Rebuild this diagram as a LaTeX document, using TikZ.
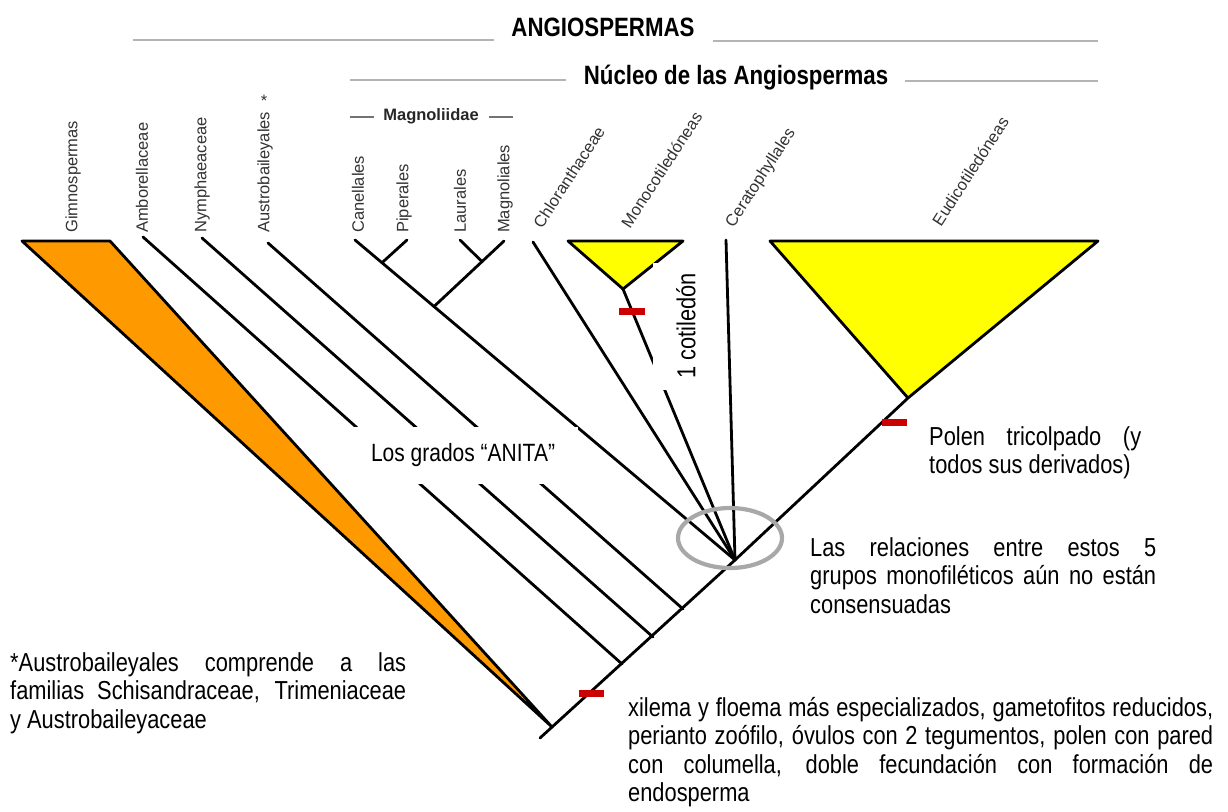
\documentclass[tikz,border=0pt]{standalone}
\usepackage{fontspec}
\setmainfont{Liberation Sans}
\newfontfamily\narrowfont[FakeStretch=0.84]{Liberation Sans}
\definecolor{gimno}{HTML}{FF9900}
\definecolor{monoy}{HTML}{FFFF00}
\definecolor{redm}{HTML}{CC0000}
\definecolor{ringg}{HTML}{A8A8A8}
\definecolor{hdrg}{HTML}{B4B4B4}
\begin{document}
\begin{tikzpicture}[x=1pt,y=-1pt,
  branch/.style={line width=2.8pt,black,line cap=round,line join=round},
  clade/.style={line width=2.8pt,draw=black,line join=round},
  hdrline/.style={line width=2pt,hdrg},
  maglines/.style={line width=1.2pt,black!55},
  redmark/.style={fill=redm,draw=none},
  lbl/.style={font=\fontsize{16.5}{18}\selectfont,text=black!80,inner sep=0pt},
  hdr/.style={font=\narrowfont\bfseries\fontsize{26.5}{28.5}\selectfont,inner sep=0pt},
  body/.style={font=\narrowfont\fontsize{26}{28.5}\selectfont,inner sep=0pt},
  whitebox/.style={fill=white,draw=none,inner sep=0pt}]
\useasboundingbox[fill=white] (0,0) rectangle (1228,811);

% ---------- headers ----------
\node[hdr,anchor=base] (ang) at (603,36.5) {ANGIOSPERMAS};
\coordinate (a1) at (133,40); \coordinate (a2) at (494,40);
\coordinate (a3) at (713,41); \coordinate (a4) at (1098,41);
\draw[hdrline] (a1) -- (a2);
\draw[hdrline] (a3) -- (a4);
\node[hdr,anchor=base] (nuc) at (736,84) {Núcleo de las Angiospermas};
\coordinate (n1) at (350,80); \coordinate (n2) at (566,80);
\coordinate (n3) at (905,81); \coordinate (n4) at (1098,81);
\draw[hdrline] (n1) -- (n2);
\draw[hdrline] (n3) -- (n4);
\node[font=\bfseries\fontsize{16.5}{18}\selectfont,text=black!85,inner sep=0pt] (magn) at (431,116) {Magnoliidae};
\coordinate (m1l) at (350,117); \coordinate (m2l) at (374,117);
\coordinate (m3l) at (489,117); \coordinate (m4l) at (513,117);
\draw[maglines] (m1l) -- (m2l);
\draw[maglines] (m3l) -- (m4l);

% ---------- tree coordinates ----------
\coordinate (root) at (540,738);
\coordinate (jg)   at (552,727);
\coordinate (ja)   at (622,664);
\coordinate (jn)   at (653,637);
\coordinate (jau)  at (683,609);
\coordinate (poly) at (735,560);
\coordinate (eua)  at (908,398);
\coordinate (g1) at (22,241);  \coordinate (g2) at (110,241);
\coordinate (tamb) at (143,237);
\coordinate (tnym) at (202,238);
\coordinate (taus) at (268,243);
\coordinate (tcan) at (355,240);
\coordinate (tpip) at (407,240);
\coordinate (jcp)  at (382,262.7);
\coordinate (tlau) at (460,240);
\coordinate (tmag) at (504,241);
\coordinate (jlm)  at (482,261.6);
\coordinate (jmag) at (434,306.5);
\coordinate (tchl) at (533,242);
\coordinate (mapx) at (623,289);
\coordinate (mo1) at (568,241); \coordinate (mo2) at (683,241);
\coordinate (tcer) at (726,240);
\coordinate (e1) at (770,241); \coordinate (e2) at (1098,241);

% ---------- Gimnospermas wedge ----------
\draw[clade,fill=gimno] (g1) -- (g2) -- (jg) -- cycle;

% ---------- branches ----------
\draw[branch] (root) -- (poly) -- (eua);
\draw[branch] (tamb) -- (ja);
\draw[branch] (tnym) -- (jn);
\draw[branch] (taus) -- (jau);
\draw[branch] (tcan) -- (poly);
\draw[branch] (tpip) -- (jcp);
\draw[branch] (tmag) -- (jmag);
\draw[branch] (tlau) -- (jlm);
\draw[branch] (tchl) -- (poly);
\draw[branch] (mapx) -- (poly);
\draw[branch] (tcer) -- (poly);

% ---------- triangles ----------
\draw[clade,fill=monoy] (mo1) -- (mo2) -- (mapx) -- cycle;
\draw[clade,fill=monoy] (e1) -- (e2) -- (eua) -- cycle;

% ---------- polytomy ring ----------
\draw[ringg,line width=4.2pt] (730,538) ellipse [x radius=52,y radius=30];

% ---------- red marks ----------
\fill[redmark] (579,690) rectangle (604,697);
\fill[redmark] (619,308) rectangle (645,315);
\fill[redmark] (882,419) rectangle (907,426);

% ---------- white label boxes ----------
\node[whitebox,minimum width=229pt,minimum height=57pt,font=\narrowfont\fontsize{25}{28}\selectfont] (anita) at (463,455.5) {Los grados “ANITA”};
\node[whitebox,rotate=90,minimum width=127pt,minimum height=66pt,font=\narrowfont\fontsize{26}{28}\selectfont] (cot) at (686,326) {1 cotiledón};

% ---------- tip labels ----------
\node[lbl,rotate=90,anchor=west] (lgim) at (73,233) {Gimnospermas};
\node[lbl,rotate=90,anchor=west] (lamb) at (142,233) {Amborellaceae};
\node[lbl,rotate=90,anchor=west] (lnym) at (202,233) {Nymphaeaceae};
\node[lbl,rotate=90,anchor=west] (laus) at (265,233) {Austrobaileyales};
\node[lbl] (ast) at (264,101) {*};
\node[lbl,rotate=90,anchor=west] (lcan) at (358,233) {Canellales};
\node[lbl,rotate=90,anchor=west] (lpip) at (404,233) {Piperales};
\node[lbl,rotate=90,anchor=west] (llau) at (460,233) {Laurales};
\node[lbl,rotate=90,anchor=west] (lmag) at (505,233) {Magnoliales};
\node[lbl,rotate=57,anchor=west] (lchl) at (537,226) {Chloranthaceae};
\node[lbl,rotate=57,anchor=west] (lmon) at (625,226) {Monocotiledóneas};
\node[lbl,rotate=57,anchor=west] (lcer) at (730,226) {Ceratophyllales};
\node[lbl,rotate=57,anchor=west] (leud) at (936,224) {Eudicotiledóneas};

% ---------- annotations ----------
\node[body,anchor=base west] (pol1) at (929,445) {\makebox[212pt][s]{Polen tricolpado (y}};
\node[body,anchor=base west] (pol2) at (929,473.5) {todos sus derivados)};

\node[body,anchor=base west] (las1) at (810,556) {\makebox[346pt][s]{Las relaciones entre estos 5}};
\node[body,anchor=base west] (las2) at (810,584.5) {\makebox[346pt][s]{grupos monofiléticos aún no están}};
\node[body,anchor=base west] (las3) at (810,613) {consensuadas};

\node[body,anchor=base west] (aus1) at (10,671) {\makebox[396pt][s]{*Austrobaileyales comprende a las}};
\node[body,anchor=base west] (aus2) at (10,699.5) {\makebox[396pt][s]{familias Schisandraceae, Trimeniaceae}};
\node[body,anchor=base west] (aus3) at (10,728) {y Austrobaileyaceae};

\node[body,anchor=base west] (xil1) at (628,716) {\makebox[585pt][s]{xilema y floema más especializados, gametofitos reducidos,}};
\node[body,anchor=base west] (xil2) at (628,744.5) {\makebox[585pt][s]{perianto zoófilo, óvulos con 2 tegumentos, polen con pared}};
\node[body,anchor=base west] (xil3) at (628,773) {\makebox[585pt][s]{con columella, doble fecundación con formación de}};
\node[body,anchor=base west] (xil4) at (628,801.5) {endosperma};
\end{tikzpicture}
\end{document}
